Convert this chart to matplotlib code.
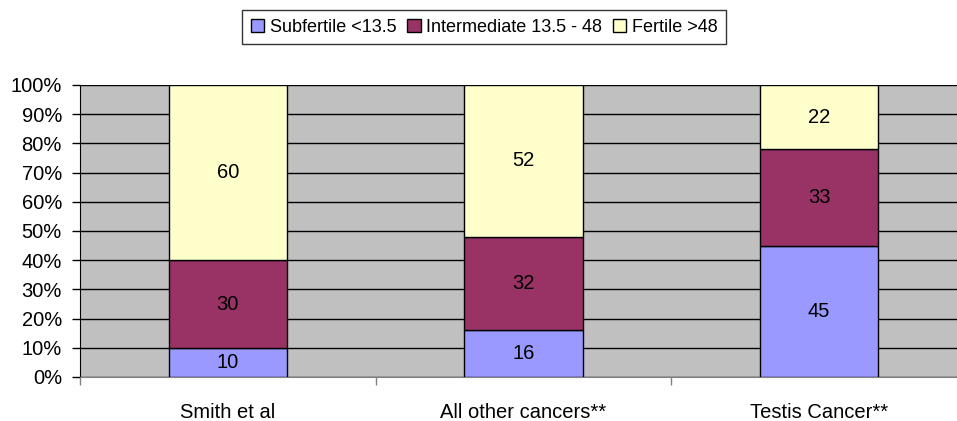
import numpy as np
import matplotlib.pyplot as plt
from matplotlib.patches import Patch

plt.rcParams['font.family'] = ['Liberation Sans', 'DejaVu Sans']

categories = ['Smith et al', 'All other cancers**', 'Testis Cancer**']
subfertile = [10, 16, 45]
intermediate = [30, 32, 33]
fertile = [60, 52, 22]
series_names = ['Subfertile <13.5', 'Intermediate 13.5 - 48', 'Fertile >48']
colors = ['#9999FF', '#993366', '#FFFFCC']

fig = plt.figure(figsize=(9.57, 4.21), dpi=100)
ax = fig.add_axes([80 / 957, 1 - 377 / 421, 887 / 957, 292 / 421])
ax.set_facecolor('#C0C0C0')

ind = np.arange(len(categories))
width = 0.4
bottom = np.zeros(len(categories))
for vals, col in zip([subfertile, intermediate, fertile], colors):
    vals = np.array(vals, dtype=float)
    ax.bar(ind, vals, width, bottom=bottom, color=col, edgecolor='black',
           linewidth=1, zorder=3)
    for x, b, v in zip(ind, bottom, vals):
        ax.text(x, b + v / 2, f'{int(v)}', ha='center', va='center',
                fontsize=14.5, zorder=4)
    bottom += vals

ax.set_xlim(-0.5, len(categories) - 0.5)
ax.set_ylim(0, 100)
ax.set_yticks(np.arange(0, 101, 10))
ax.set_yticklabels([f'{t}%' for t in range(0, 101, 10)], fontsize=14.5)
ax.yaxis.grid(True, color='black', linewidth=1, zorder=1)
ax.set_axisbelow(True)

# category labels sit between boundary ticks
ax.set_xticks(ind)
ax.set_xticklabels(categories, fontsize=14.5)
ax.tick_params(axis='x', length=0, pad=19)
ax.set_xticks(np.arange(-0.5, len(categories), 1), minor=True)
ax.tick_params(axis='x', which='minor', length=6, color='#808080', width=1)
ax.tick_params(axis='y', length=6, width=1, pad=7)

for s in ['top', 'right']:
    ax.spines[s].set_visible(False)
ax.spines['left'].set_color('black')
ax.spines['bottom'].set_color('#808080')

handles = [Patch(facecolor=c, edgecolor='black', linewidth=1) for c in colors]
fig.legend(handles, series_names, loc='center', bbox_to_anchor=(484 / 957, 1 - 27 / 421),
           ncol=3, fontsize=13, frameon=True, fancybox=False, edgecolor='black',
           handlelength=0.75, handleheight=0.75, handletextpad=0.3, columnspacing=0.6,
           borderpad=0.45, borderaxespad=0.2)

fig.savefig('out.png', dpi=100)
